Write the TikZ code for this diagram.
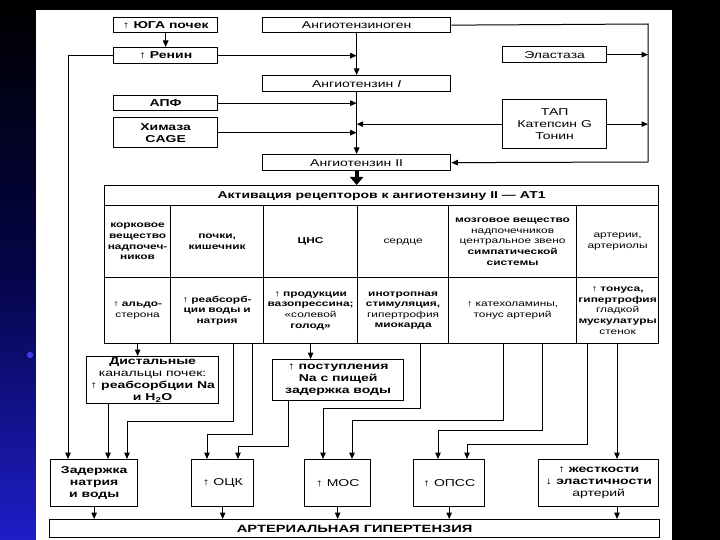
\documentclass[tikz,border=0pt]{standalone}
\usepackage{fontspec}
\setmainfont{Liberation Sans}[FakeStretch=1.4]
\usetikzlibrary{arrows.meta,calc}
\definecolor{navy}{RGB}{30,30,200}
\definecolor{darknavy}{RGB}{4,4,70}
\definecolor{bul}{RGB}{60,60,225}
\tikzset{
 box/.style={draw, line width=1.3pt, inner sep=0pt, align=center, anchor=north west, font=\fontsize{10}{12}\selectfont},
 bbox/.style={box, font=\fontsize{10}{12}\selectfont\bfseries},
 cell/.style={draw, line width=1.2pt, inner sep=0pt, align=center, anchor=north west, font=\fontsize{8.5}{10.6}\selectfont},
 arr/.style={line width=1pt, -{Triangle[length=6.5pt,width=5.5pt]}},
 bigarr/.style={line width=4pt, -{Triangle[length=8pt,width=13pt]}}
}
\begin{document}
\begin{tikzpicture}[x=1pt,y=-1pt]
\useasboundingbox (0,0) rectangle (720,540);
% background
\fill[black] (0,0) rectangle (720,540);
\shade[top color=black, bottom color=navy, middle color=darknavy] (0,0) rectangle (36,540);
\fill[white] (36,10) rectangle (672,540);
\fill[bul] (30,355) circle (3.2);

% top section
\node[bbox, minimum width=104pt, minimum height=15pt] (yuga) at (113,17) {↑ ЮГА почек};
\node[box, minimum width=188pt, minimum height=15pt] (angen) at (262,17) {Ангиотензиноген};
\node[bbox, minimum width=104pt, minimum height=16pt] (renin) at (113,47) {↑ Ренин};
\node[box, minimum width=104pt, minimum height=16pt] (elast) at (502,46) {Эластаза};
\node[box, minimum width=188pt, minimum height=16pt] (ang1) at (262,75) {Ангиотензин \textit{I}};
\node[bbox, minimum width=104pt, minimum height=15pt] (apf) at (113,95) {АПФ};
\node[bbox, minimum width=104pt, minimum height=30pt] (chym) at (113,117) {Химаза\\CAGE};
\node[box, minimum width=104pt, minimum height=49pt] (tal) at (502,99) {ТАП\\Катепсин G\\Тонин};
\node[box, minimum width=188pt, minimum height=16pt] (ang2) at (262,154) {Ангиотензин II};

\coordinate (busT) at (648,24);
\coordinate (busB) at (648,162);
\draw[arr] (angen.south) -- (ang1.north);
\draw[arr] (ang1.south) -- (ang2.north);
\draw[arr] (yuga.south) -- (renin.north);
\draw[arr] (renin.east) -- (renin.east -| ang1.south);
\draw[arr] (apf.east) -- (apf.east -| ang1.south);
\draw[arr] (chym.east) -- (chym.east -| ang1.south);
\draw[arr] (tal.west) -- (tal.west -| ang1.south);
\draw[arr] (angen.east) -- (busT) -- (busB) -- (ang2.east);
\draw[arr] (elast.east) -- (elast.east -| busT);
\draw[arr] (tal.east) -- (tal.east -| busT);

% table
\node[cell, minimum width=554pt, minimum height=20pt, font=\fontsize{10}{12}\selectfont\bfseries] (title) at (104,185) {Активация рецепторов к ангиотензину II — АТ1};
\draw[bigarr] (ang2.south) -- (ang2.south |- title.north);

\node[cell, minimum width=66pt, minimum height=72pt, text width=64pt] (c11) at (104,205) {\bfseries корковое\\вещество\\надпочеч-\\ников};
\node[cell, minimum width=93pt, minimum height=72pt, text width=91pt] (c12) at (170,205) {\bfseries почки,\\кишечник};
\node[cell, minimum width=94pt, minimum height=72pt, text width=92pt] (c13) at (263,205) {\bfseries ЦНС};
\node[cell, minimum width=91pt, minimum height=72pt, text width=89pt] (c14) at (357,205) {сердце};
\node[cell, minimum width=128pt, minimum height=72pt, text width=126pt] (c15) at (448,205) {{\bfseries мозговое вещество}\\надпочечников\\центральное звено\\{\bfseries симпатической}\\{\bfseries системы}};
\node[cell, minimum width=82pt, minimum height=72pt, text width=80pt] (c16) at (576,205) {артерии,\\артериолы};

\node[cell, minimum width=66pt, minimum height=66pt, text width=64pt] (c21) at (104,277) {{\bfseries ↑ альдо-}\\стерона};
\node[cell, minimum width=93pt, minimum height=66pt, text width=91pt] (c22) at (170,277) {\bfseries ↑ реабсорб-\\ции воды и\\натрия};
\node[cell, minimum width=94pt, minimum height=66pt, text width=92pt] (c23) at (263,277) {{\bfseries ↑ продукции}\\{\bfseries вазопрессина;}\\«солевой\\{\bfseries голод»}};
\node[cell, minimum width=91pt, minimum height=66pt, text width=89pt] (c24) at (357,277) {{\bfseries инотропная}\\{\bfseries стимуляция,}\\гипертрофия\\{\bfseries миокарда}};
\node[cell, minimum width=128pt, minimum height=66pt, text width=126pt] (c25) at (448,277) {↑ катехоламины,\\тонус артерий};
\node[cell, minimum width=82pt, minimum height=66pt, text width=80pt] (c26) at (576,277) {{\bfseries ↑ тонуса,}\\{\bfseries гипертрофия}\\гладкой\\{\bfseries мускулатуры}\\стенок};

% lower boxes
\node[bbox, minimum width=132pt, minimum height=47pt] (dist) at (86,356) {Дистальные\\{\mdseries канальцы почек:}\\↑ реабсорбции Na\\и H\textsubscript{2}O};
\node[bbox, minimum width=131pt, minimum height=41pt] (post) at (272,359) {↑ поступления\\Na с пищей\\задержка воды};
\node[bbox, minimum width=87pt, minimum height=47pt] (zad) at (50,459) {Задержка\\натрия\\и воды};
\node[box, minimum width=62pt, minimum height=47pt] (ock) at (191,459) {↑ ОЦК};
\node[box, minimum width=66pt, minimum height=47pt] (mos) at (304,459) {↑ МОС};
\node[box, minimum width=71pt, minimum height=47pt] (opss) at (413,459) {↑ ОПСС};
\node[bbox, minimum width=120pt, minimum height=47pt] (zhest) at (538,459) {↑ жесткости\\↓ эластичности\\{\mdseries артерий}};
\node[box, minimum width=610pt, minimum height=18pt, font=\fontsize{10.5}{12}\selectfont\bfseries] (ag) at (49,519) {АРТЕРИАЛЬНАЯ ГИПЕРТЕНЗИЯ};

% connectors below the table
\draw[arr] (renin.west) -| ($(zad.north west)+(18,0)$);
\draw[arr] (c21.south) -- (c21.south |- dist.north);
\draw[arr] ($(dist.south west)+(22,0)$) -- ($(zad.north west)+(58,0)$);
\draw[arr] ($(c22.south west)+(63,0)$) -- ++(0,77) -| ($(zad.north west)+(77,0)$);
\draw[arr] ($(c22.south west)+(82,0)$) -- ++(0,90) -| ($(ock.north west)+(16,0)$);
\draw[arr] (c23.south) -- (c23.south |- post.north);
\draw[arr] ($(post.south west)+(16,0)$) -- ++(0,45) -| ($(ock.north west)+(47,0)$);
\draw[arr] ($(c24.south west)+(63,0)$) -- ++(0,64) -| ($(mos.north west)+(19,0)$);
\draw[arr] ($(c25.south west)+(55,0)$) -- ++(0,76) -| ($(mos.north west)+(48,0)$);
\draw[arr] ($(c25.south west)+(94,0)$) -- ++(0,86) -| ($(opss.north west)+(25,0)$);
\draw[arr] ($(c26.south west)+(11,0)$) -- ++(0,100) -| ($(opss.north west)+(54,0)$);
\draw[arr] ($(c26.south west)+(41,0)$) -- ($(zhest.north west)+(79,0)$);

% arrows to the bottom box
\coordinate (zb) at ($(zhest.south west)+(79,0)$);
\draw[arr] (zad.south) -- (zad.south |- ag.north);
\draw[arr] (ock.south) -- (ock.south |- ag.north);
\draw[arr] (mos.south) -- (mos.south |- ag.north);
\draw[arr] (opss.south) -- (opss.south |- ag.north);
\draw[arr] (zb) -- (zb |- ag.north);
\end{tikzpicture}
\end{document}
